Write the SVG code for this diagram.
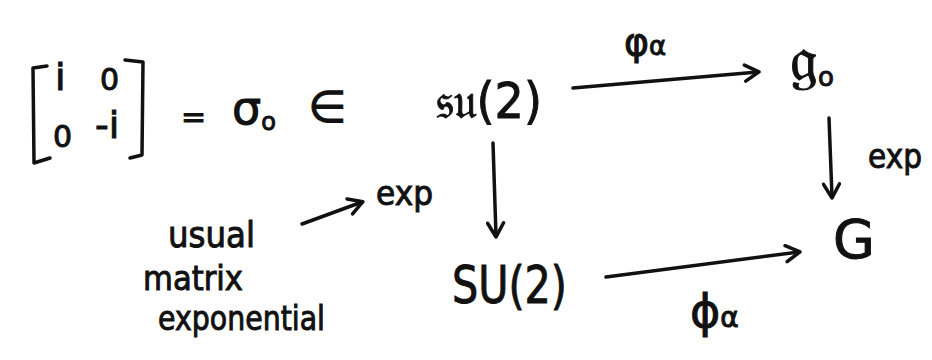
<svg xmlns="http://www.w3.org/2000/svg" width="932" height="360" viewBox="0 0 932 360">
<style>
text{font-family:"DejaVu Sans","Liberation Sans",sans-serif;fill:#111;stroke:#111;stroke-width:1}
.ln{stroke:#111;stroke-width:3.5;fill:none;stroke-linecap:round;stroke-linejoin:round}
</style>
<defs>
<marker id="ah" markerWidth="20" markerHeight="20" refX="16" refY="10" orient="auto" markerUnits="userSpaceOnUse">
<path d="M3,2 L17,10 L3,18" fill="none" stroke="#111" stroke-width="3.5" stroke-linecap="round" stroke-linejoin="round"/>
</marker>
</defs>
<rect width="932" height="360" fill="#fff"/>
<g id="matrix">
<path class="ln" d="M47,66 L33,68 L34,163 L50,158"/>
<path class="ln" d="M125,60 L143,62 L142,155 L130,158"/>
<text x="55" y="90" font-size="38">i</text>
<text x="100" y="90" font-size="30">0</text>
<text x="53" y="147" font-size="30">0</text>
<text x="95" y="138" font-size="38">-i</text>
</g>
<g id="equals"><text x="181" y="127" font-size="30">=</text></g>
<g id="sigma"><text x="232" y="124" font-size="46">σ<tspan font-size="24" dy="6">o</tspan></text></g>
<g id="in"><text x="308" y="122" font-size="44">∈</text></g>
<g id="su2"><text x="436" y="118" font-size="50" textLength="106" lengthAdjust="spacingAndGlyphs">𝔰𝔲(2)</text></g>
<g id="g0"><text x="790" y="80" font-size="62">𝔤<tspan font-size="26" dy="6">o</tspan></text></g>
<g id="SU2"><text x="452" y="303" font-size="52" textLength="115" lengthAdjust="spacingAndGlyphs">SU(2)</text></g>
<g id="G"><text x="833" y="258" font-size="54">G</text></g>
<g id="note">
<text x="168" y="247" font-size="36" textLength="87" lengthAdjust="spacingAndGlyphs">usual</text>
<text x="143" y="290" font-size="34" textLength="100" lengthAdjust="spacingAndGlyphs">matrix</text>
<text x="158" y="330" font-size="34" textLength="167" lengthAdjust="spacingAndGlyphs">exponential</text>
</g>
<g id="connectors">
<path class="ln" d="M573,88 L758,72" marker-end="url(#ah)"/>
<path class="ln" d="M829,118 L832,197" marker-end="url(#ah)"/>
<path class="ln" d="M493,143 L496,236" marker-end="url(#ah)"/>
<path class="ln" d="M606,277 L799,252" marker-end="url(#ah)"/>
<path class="ln" d="M302,224 L362,202" marker-end="url(#ah)"/>
</g>
<g id="labels">
<text x="624" y="55" font-size="38">φ<tspan font-size="26">α</tspan></text>
<text x="868" y="168" font-size="34" textLength="54" lengthAdjust="spacingAndGlyphs">exp</text>
<text x="376" y="205" font-size="34" textLength="57" lengthAdjust="spacingAndGlyphs">exp</text>
<text x="690" y="327" font-size="46">ϕ<tspan font-size="28">α</tspan></text>
</g>
</svg>
